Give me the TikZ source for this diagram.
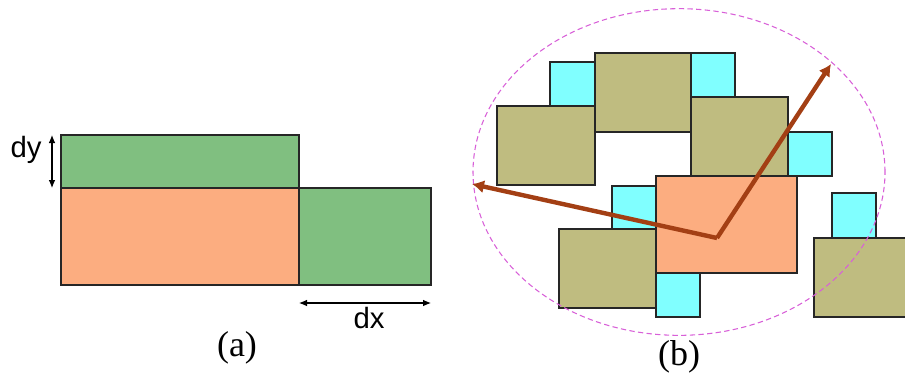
\documentclass[tikz,border=0pt]{standalone}
\usepackage{fontspec}
\setmainfont{Liberation Serif}
\newfontfamily\dimfont{Liberation Sans}
\usepackage{tikz}
\usetikzlibrary{arrows.meta}
\definecolor{grow}{HTML}{80BF80}
\definecolor{body}{HTML}{FCAD80}
\definecolor{other}{HTML}{BFBC80}
\definecolor{spare}{HTML}{80FFFF}
\definecolor{reach}{HTML}{A33F14}
\definecolor{ring}{HTML}{D860D8}

\tikzset{
  blk/.style={draw=black!85,line width=0.9pt},
  dimarrow/.style={{Latex[length=6pt,width=5pt]}-{Latex[length=6pt,width=5pt]},line width=0.8pt},
  dimlabel/.style={font=\dimfont\fontsize{22}{26}\selectfont,inner sep=0pt},
  caption/.style={font=\fontsize{27}{30}\selectfont,inner sep=0pt},
  reacharrow/.style={-{Latex[length=9pt,width=10pt]},reach,line width=3.3pt}
}

\begin{document}
\begin{tikzpicture}[x=0.75pt,y=-0.75pt]
  \useasboundingbox (0,0) rectangle (905,379);
  % (a) rectangle grown by dx and dy
  \draw[blk,fill=grow] (61,135) rectangle (299,188);
  \draw[blk,fill=body] (61,188) rectangle (299,285);
  \draw[blk,fill=grow] (299,188) rectangle (431,285);
  \coordinate (dytop) at (52,135);
  \coordinate (dybot) at (52,188);
  \draw[dimarrow] (dytop) -- (dybot);
  \node[dimlabel] (dy) at (26,150) {dy};
  \coordinate (dxleft) at (299,303);
  \coordinate (dxright) at (431,303);
  \draw[dimarrow] (dxleft) -- (dxright);
  \node[dimlabel] (dx) at (369,318) {dx};
  \node[caption] (capa) at (237,348) {(a)};

  % (b) neighbours around the moving block
  \draw[blk,fill=spare] (550,62) rectangle (595,106);
  \draw[blk,fill=spare] (691,53) rectangle (735,97);
  \draw[blk,fill=spare] (788,132) rectangle (832,176);
  \draw[blk,fill=spare] (612,186) rectangle (656,229);
  \draw[blk,fill=spare] (656,273) rectangle (700,317);
  \draw[blk,fill=spare] (832,193) rectangle (876,238);
  \draw[blk,fill=other] (497,106) rectangle (595,185);
  \draw[blk,fill=other] (595,53) rectangle (691,132);
  \draw[blk,fill=other] (691,97) rectangle (788,176);
  \draw[blk,fill=other] (559,229) rectangle (656,308);
  \draw[blk,fill=other] (814,238) rectangle (908,317);
  \draw[blk,fill=body] (656,176) rectangle (797,273);
  \draw[ring,line width=0.8pt,dash pattern=on 4pt off 2.5pt]
    (679,172) ellipse [x radius=154.5pt,y radius=122.5pt];
  \coordinate (pivot) at (717,238);
  \coordinate (farw) at (472,184);
  \coordinate (farne) at (831,64);
  \draw[reacharrow] (pivot) -- (farw);
  \draw[reacharrow] (pivot) -- (farne);
  \node[caption] (capb) at (679,357) {(b)};
\end{tikzpicture}
\end{document}
